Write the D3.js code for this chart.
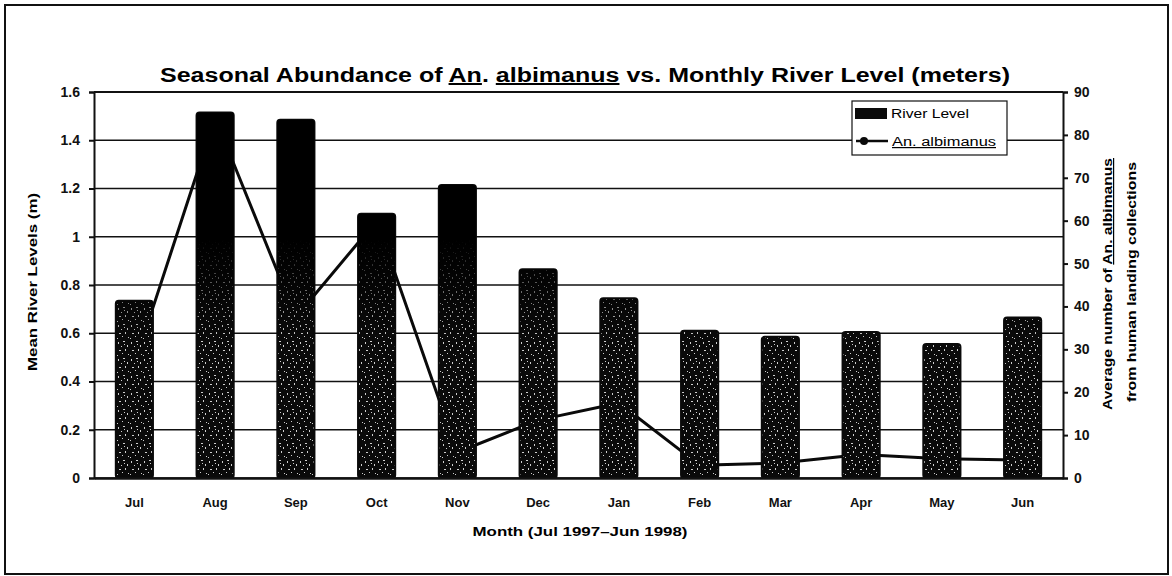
<!DOCTYPE html>
<html>
<head>
<meta charset="utf-8">
<script src="https://cdn.jsdelivr.net/npm/d3@7"></script>
<style>
  body { margin: 0; background: #fff; }
  svg { display: block; font-family: "Liberation Sans", Arial, sans-serif; }
</style>
</head>
<body>
<div id="chart"></div>
<script>
// data
const months = ["Jul", "Aug", "Sep", "Oct", "Nov", "Dec", "Jan", "Feb", "Mar", "Apr", "May", "Jun"];
const riverLevel = [0.735, 1.515, 1.485, 1.095, 1.215, 0.865, 0.745, 0.61, 0.585, 0.605, 0.555, 0.665];
const albimanus = [26.5, 84, 37.5, 60, 6, 13.5, 17.5, 3, 3.5, 5.5, 4.5, 4.2];
const leftTicks = [0, 0.2, 0.4, 0.6, 0.8, 1, 1.2, 1.4, 1.6];
const rightTicks = [0, 10, 20, 30, 40, 50, 60, 70, 80, 90];

const width = 1172, height = 576;
const plot = { left: 94, right: 1063, top: 92, bottom: 478 };

const svg = d3.select("#chart").append("svg")
    .attr("width", width)
    .attr("height", height);

const defs = svg.append("defs");

// speckled texture of the scanned bars
const pat = defs.append("pattern")
    .attr("id", "speckle")
    .attr("patternUnits", "userSpaceOnUse")
    .attr("width", 13)
    .attr("height", 17);
pat.append("rect").attr("width", 13).attr("height", 17).attr("fill", "#0a0a0a");
[[1, 2, 1, 2], [6, 1, 2, 1], [4, 6, 1, 1], [10, 5, 1, 2], [2, 10, 2, 1], [8, 9, 1, 2],
 [5, 13, 1, 1], [11, 14, 1, 1], [0, 15, 1, 1], [7, 4, 1, 1]]
    .forEach(d => pat.append("rect")
        .attr("x", d[0]).attr("y", d[1]).attr("width", d[2]).attr("height", d[3])
        .attr("fill", "#fff").attr("opacity", 0.8));

const fade = defs.append("linearGradient")
    .attr("id", "fade")
    .attr("gradientUnits", "userSpaceOnUse")
    .attr("x1", 0).attr("x2", 0)
    .attr("y1", 240).attr("y2", 340);
fade.append("stop").attr("offset", 0).attr("stop-color", "#000").attr("stop-opacity", 1);
fade.append("stop").attr("offset", 1).attr("stop-color", "#000").attr("stop-opacity", 0);

const x = d3.scaleBand()
    .domain(months)
    .range([plot.left, plot.right])
    .paddingInner(0.54)
    .paddingOuter(0.27);

const yLeft = d3.scaleLinear().domain([0, 1.6]).range([plot.bottom, plot.top]);
const yRight = d3.scaleLinear().domain([0, 90]).range([plot.bottom, plot.top]);

// outer frame
svg.append("rect")
    .attr("x", 5).attr("y", 5)
    .attr("width", 1163).attr("height", 569)
    .attr("fill", "none")
    .attr("stroke", "#111")
    .attr("stroke-width", 2);

// title
const title = svg.append("text")
    .attr("x", 585)
    .attr("y", 82)
    .attr("text-anchor", "middle")
    .attr("textLength", 850)
    .attr("lengthAdjust", "spacingAndGlyphs")
    .style("font-size", "20px")
    .style("font-weight", "bold");
title.append("tspan").text("Seasonal Abundance of ");
title.append("tspan").attr("text-decoration", "underline").text("An");
title.append("tspan").text(". ");
title.append("tspan").attr("text-decoration", "underline").text("albimanus");
title.append("tspan").text(" vs. Monthly River Level (meters)");

// gridlines
svg.append("g")
    .selectAll("line")
    .data(leftTicks)
    .join("line")
    .attr("x1", plot.left).attr("x2", plot.right)
    .attr("y1", d => yLeft(d)).attr("y2", d => yLeft(d))
    .attr("stroke", "#111")
    .attr("stroke-width", 1.6);

// mosquito line (drawn under the bars, as in the scan)
const line = d3.line()
    .x((d, i) => x(months[i]) + x.bandwidth() / 2)
    .y(d => yRight(d));

svg.append("path")
    .datum(albimanus)
    .attr("fill", "none")
    .attr("stroke", "#0a0a0a")
    .attr("stroke-width", 3)
    .attr("stroke-linejoin", "round")
    .attr("d", line);

svg.append("g")
    .selectAll("circle")
    .data(albimanus)
    .join("circle")
    .attr("cx", (d, i) => x(months[i]) + x.bandwidth() / 2)
    .attr("cy", d => yRight(d))
    .attr("r", 4)
    .attr("fill", "#0a0a0a");

// bars
const bars = svg.append("g");
bars.selectAll("rect.bar")
    .data(riverLevel)
    .join("rect")
    .attr("class", "bar")
    .attr("x", (d, i) => x(months[i]))
    .attr("y", d => yLeft(d))
    .attr("width", x.bandwidth())
    .attr("height", d => yLeft(0) - yLeft(d))
    .attr("rx", 3)
    .attr("fill", "url(#speckle)")
    .attr("stroke", "#0a0a0a")
    .attr("stroke-width", 2);
bars.selectAll("rect.shade")
    .data(riverLevel)
    .join("rect")
    .attr("class", "shade")
    .attr("x", (d, i) => x(months[i]))
    .attr("y", d => yLeft(d))
    .attr("width", x.bandwidth())
    .attr("height", d => yLeft(0) - yLeft(d))
    .attr("rx", 3)
    .attr("fill", "url(#fade)");

// axes
const tickFont = g => g.selectAll("text")
    .style("font-size", "14px")
    .style("font-weight", "bold")
    .attr("fill", "#111");

svg.append("g")
    .attr("transform", `translate(${plot.left},0)`)
    .call(d3.axisLeft(yLeft).tickValues(leftTicks).tickFormat(d3.format("~g")).tickSize(5).tickPadding(9))
    .call(g => g.selectAll("line, path").attr("stroke", "#111").attr("stroke-width", 2))
    .call(tickFont);

svg.append("g")
    .attr("transform", `translate(${plot.right},0)`)
    .call(d3.axisRight(yRight).tickValues(rightTicks).tickSize(5).tickPadding(6))
    .call(g => g.selectAll("line, path").attr("stroke", "#111").attr("stroke-width", 2))
    .call(tickFont);

svg.append("g")
    .attr("transform", `translate(0,${plot.bottom})`)
    .call(d3.axisBottom(x).tickSize(0).tickPadding(20))
    .call(g => g.select(".domain").attr("stroke", "#111").attr("stroke-width", 2.5))
    .call(g => g.selectAll("text").style("font-size", "13px").style("font-weight", "bold").attr("fill", "#111"));

// top edge of plot area
svg.append("line")
    .attr("x1", plot.left).attr("x2", plot.right)
    .attr("y1", plot.top).attr("y2", plot.top)
    .attr("stroke", "#111")
    .attr("stroke-width", 2);

// axis titles
svg.append("text")
    .attr("transform", "translate(37,282) rotate(-90)")
    .attr("text-anchor", "middle")
    .attr("textLength", 178)
    .attr("lengthAdjust", "spacingAndGlyphs")
    .style("font-size", "12px")
    .style("font-weight", "bold")
    .text("Mean River Levels (m)");

svg.append("text")
    .attr("x", 580)
    .attr("y", 536)
    .attr("text-anchor", "middle")
    .attr("textLength", 215)
    .attr("lengthAdjust", "spacingAndGlyphs")
    .style("font-size", "12px")
    .style("font-weight", "bold")
    .text("Month (Jul 1997\u2013Jun 1998)");

const rt1 = svg.append("text")
    .attr("transform", "translate(1112,284) rotate(-90)")
    .attr("text-anchor", "middle")
    .attr("textLength", 252)
    .attr("lengthAdjust", "spacingAndGlyphs")
    .style("font-size", "12px")
    .style("font-weight", "bold");
rt1.append("tspan").text("Average number of ");
rt1.append("tspan").attr("text-decoration", "underline").text("An. albimanus");

svg.append("text")
    .attr("transform", "translate(1136,282) rotate(-90)")
    .attr("text-anchor", "middle")
    .attr("textLength", 240)
    .attr("lengthAdjust", "spacingAndGlyphs")
    .style("font-size", "12px")
    .style("font-weight", "bold")
    .text("from human landing collections");

// legend
const legend = svg.append("g");
legend.append("rect")
    .attr("x", 852).attr("y", 101)
    .attr("width", 155).attr("height", 54)
    .attr("fill", "#fff")
    .attr("stroke", "#111")
    .attr("stroke-width", 1.2);
legend.append("rect")
    .attr("x", 855).attr("y", 108)
    .attr("width", 32).attr("height", 11)
    .attr("fill", "#0a0a0a");
legend.append("text")
    .attr("x", 891).attr("y", 118)
    .attr("textLength", 78)
    .attr("lengthAdjust", "spacingAndGlyphs")
    .style("font-size", "12px")
    .text("River Level");
legend.append("line")
    .attr("x1", 856).attr("x2", 888)
    .attr("y1", 141).attr("y2", 141)
    .attr("stroke", "#0a0a0a")
    .attr("stroke-width", 2.5);
legend.append("circle")
    .attr("cx", 864).attr("cy", 141)
    .attr("r", 4)
    .attr("fill", "#0a0a0a");
legend.append("text")
    .attr("x", 892).attr("y", 146)
    .attr("textLength", 104)
    .attr("lengthAdjust", "spacingAndGlyphs")
    .attr("text-decoration", "underline")
    .style("font-size", "12px")
    .text("An. albimanus");
</script>
</body>
</html>
